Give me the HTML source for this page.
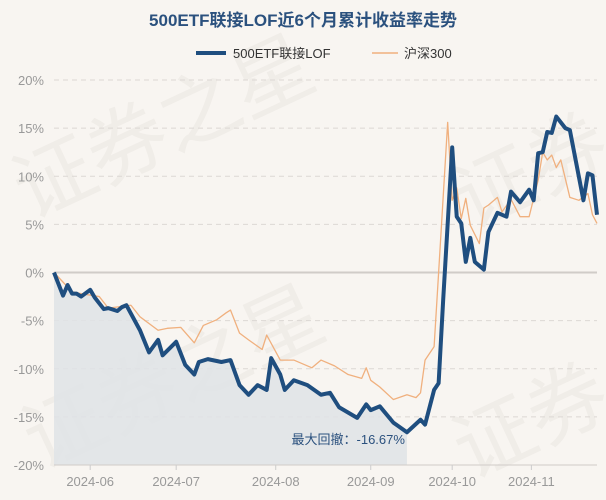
<!DOCTYPE html>
<html><head><meta charset="utf-8"><style>
html,body{margin:0;padding:0;background:#f8f5f1;}
svg{display:block;font-family:"Liberation Sans","Noto Sans CJK SC",sans-serif;}
</style></head><body>
<svg id="chart" width="606" height="500">
<rect width="606" height="500" fill="#f8f5f1"/>
<g fill="#e9e5e0" font-size="80" opacity="0.55">
<text x="30" y="220" transform="rotate(-25 30 220)">证券之星</text>
<text x="40" y="470" transform="rotate(-25 40 470)">证券之星</text>
<text x="470" y="230" transform="rotate(-25 470 230)">证券</text>
<text x="470" y="480" transform="rotate(-25 470 480)">证券</text>
</g>
<text x="303" y="26" text-anchor="middle" font-size="17" font-weight="bold" fill="#2b517e">500ETF联接LOF近6个月累计收益率走势</text>
<g>
<g><line x1="196" y1="53" x2="226" y2="53" stroke="#1f4e7f" stroke-width="4"/><text x="233" y="58" font-size="13" fill="#333">500ETF联接LOF</text></g>
<g><line x1="372" y1="53" x2="398" y2="53" stroke="#f0b07e" stroke-width="1.5"/><text x="404" y="58" font-size="13" fill="#333">沪深300</text></g>
</g>
<g id="grid"></g>
<g id="marks"></g>
<g id="axes"></g>
</svg>
<script>
const yTicks=[20,15,10,5,0,-5,-10,-15,-20];
const monthLabels=["2024-06","2024-07","2024-08","2024-09","2024-10","2024-11"];
const monthDays=[8,27,49,70,88,105.5];
const fundDays=[0,2,3,4,5,6,8,9,11,12,14,15,16,19,21,23,24,27,29,31,32,34,37,39,41,43,45,47,48,50,51,53,56,59,61,63,67,69,70,72,75,78,81,82,84,85,86,88,89,90,91,92,93,95,96,98,100,101,103,105,106,107,108,109,110,111,113,114,117,118,119,120];
const fundValues=[0,-2.4,-1.3,-2.2,-2.2,-2.5,-1.8,-2.6,-3.8,-3.7,-4,-3.6,-3.4,-6,-8.3,-7,-8.6,-7.2,-9.6,-10.6,-9.3,-9,-9.3,-9.1,-11.7,-12.7,-11.7,-12.2,-8.9,-10.6,-12.2,-11.2,-11.7,-12.7,-12.5,-14,-15.1,-13.7,-14.3,-13.9,-15.6,-16.6,-15.3,-15.8,-12.2,-11.5,-2.9,13,5.8,5.1,1.1,3.6,1.1,0.3,4.2,6.2,5.8,8.4,7.3,8.6,7.5,12.4,12.5,14.6,14.5,16.2,15,14.8,7.5,10.3,10.1,6];
const hsDays=[0,4,6,10,12,17,19,23,25,28,31,33,36,38,39,41,43,46,47,50,53,57,59,62,65,68,69,70,72,75,78,80,81,82,84,85,87,88,89,90,91,92,94,95,96,98,99,101,103,105,107,108,109,110,111,112,114,116,118,119,120];
const hsValues=[0,-2,-2.2,-2.5,-3.7,-3.4,-4.6,-6,-5.8,-5.7,-7.3,-5.5,-4.9,-4.2,-3.9,-6.3,-7,-8,-6.5,-9.1,-9.1,-9.9,-9.1,-9.7,-10.6,-11,-9.9,-11.2,-11.9,-13.2,-12.7,-13,-12.5,-9.1,-7.7,0,15.6,7.5,8.8,5.6,7.7,4.9,3,6.7,7,7.8,6.3,7.6,5.8,5.8,9.6,12.5,11.7,12.2,10.9,11.7,7.8,7.5,8.2,6,5.1];
const ddEndDay=78;
const totalDays=120;
const NS="http://www.w3.org/2000/svg";
const X0=54,X1=597,Y0=80,Y1=465;
function xs(d){return X0+(X1-X0)*d/totalDays;}
function ys(v){return Y0+(20-v)/40*(Y1-Y0);}
function mk(tag,attrs,parent){const e=document.createElementNS(NS,tag);for(const k in attrs)e.setAttribute(k,attrs[k]);parent.appendChild(e);return e;}
const grid=document.getElementById('grid'),marks=document.getElementById('marks'),axes=document.getElementById('axes');
yTicks.forEach(t=>{
  const l=mk('line',{x1:X0,x2:X1,y1:ys(t),y2:ys(t),stroke:t===0?'#d0ccc8':'#dcd8d4','stroke-width':t===0?2:1,'stroke-dasharray':t===0?'':'5,4'},grid);
  
  
  const tx=mk('text',{x:44,y:ys(t)+5,'text-anchor':'end','font-size':13,fill:'#999'},axes);
  tx.textContent=t+'%';
  
  
});
mk('line',{x1:X0,x2:X1,y1:Y1,y2:Y1,stroke:'#d0ccc8','stroke-width':1},axes);
monthLabels.forEach((m,i)=>{
  const x=xs(monthDays[i]);
  mk('line',{x1:x,x2:x,y1:Y1,y2:Y1+5,stroke:'#ccc'},axes);
  const tx=mk('text',{x:x,y:486,'text-anchor':'middle','font-size':13,fill:'#999'},axes);
  tx.textContent=m;
  
  
});
// drawdown area
let ad='M'+xs(0)+','+ys(-20);
for(let i=0;i<fundDays.length&&fundDays[i]<=ddEndDay;i++)ad+=' L'+xs(fundDays[i])+','+ys(fundValues[i]);
ad+=' L'+xs(ddEndDay)+','+ys(-20)+' Z';
const area=mk('path',{d:ad,fill:'#dfe3e6',opacity:0.85},marks);


const ddt=mk('text',{x:xs(ddEndDay)-2,y:444,'text-anchor':'end','font-size':13,fill:'#2b517e'},marks);
ddt.textContent='最大回撤：-16.67%';


function line(days,vals,color,w,name){
  const p=mk('polyline',{points:days.map((d,i)=>xs(d)+','+ys(vals[i])).join(' '),fill:'none',stroke:color,'stroke-width':w,'stroke-linejoin':'round'},marks);
  
  
}
line(hsDays,hsValues,'#f0b07e',1.3,'hs300-line');
line(fundDays,fundValues,'#1f4e7f',4,'fund-line');
</script>
</body></html>
